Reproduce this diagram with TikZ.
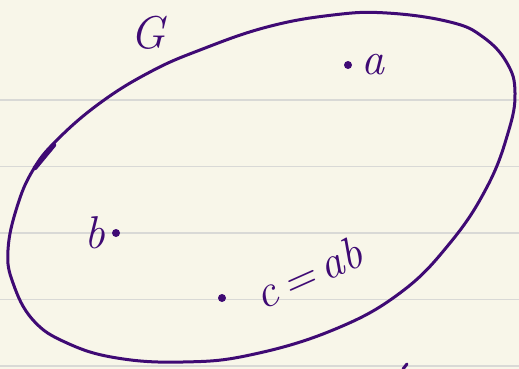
\documentclass[tikz,border=0pt]{standalone}
\usepackage{xcolor}
\usepackage{tikz}
\usetikzlibrary{positioning}

\definecolor{paper}{HTML}{F8F6E9}
\definecolor{ruleGray}{HTML}{D9D9D6}
\definecolor{penPurple}{HTML}{3F0A74}

\begin{document}
\begin{tikzpicture}[x=1pt, y=-1pt,
  rule/.style={draw=ruleGray, line width=1.8pt},
  pen/.style={draw=penPurple, line width=3pt, line cap=round, line join=round},
  elem/.style={circle, fill=penPurple, inner sep=0pt, minimum size=8pt},
  lab/.style={text=penPurple, font=\fontsize{46}{46}\selectfont\itshape, inner sep=0pt}
]
\useasboundingbox[fill=paper] (0,0) rectangle (519,369);
\foreach \y in {100,166.5,233,299.5,366}
  \draw[rule] (0,\y) -- (519,\y);

% the set G
\draw[pen] plot[smooth cycle, tension=0.7] coordinates {
  (387,13) (450,22) (483,37) (507,63) (515,93) (508,133) (487,187)
  (450,243) (400,293) (333,330) (250,355) (183,362) (117,358) (67,343)
  (33,320) (13,283) (8,250) (17,207) (33,170) (57,140) (100,103)
  (150,72) (200,50) (267,27) (333,15)};
\draw[pen, line width=4.5pt] (35,168) -- (54,145);
\draw[pen] (403,369) -- (407,364);
\node[lab] (glab) at (148,33) {G};

% elements
\node[elem] (a) at (348,65) {};
\node[lab, right=9pt of a] (alab) {a};
\node[elem] (b) at (116,233) {};
\node[lab, left=6pt of b] (blab) {b};
\node[elem] (c) at (222,298) {};
\node[lab, rotate=24] (clab) at (308,273) {c\,=\,ab};
\end{tikzpicture}
\end{document}
